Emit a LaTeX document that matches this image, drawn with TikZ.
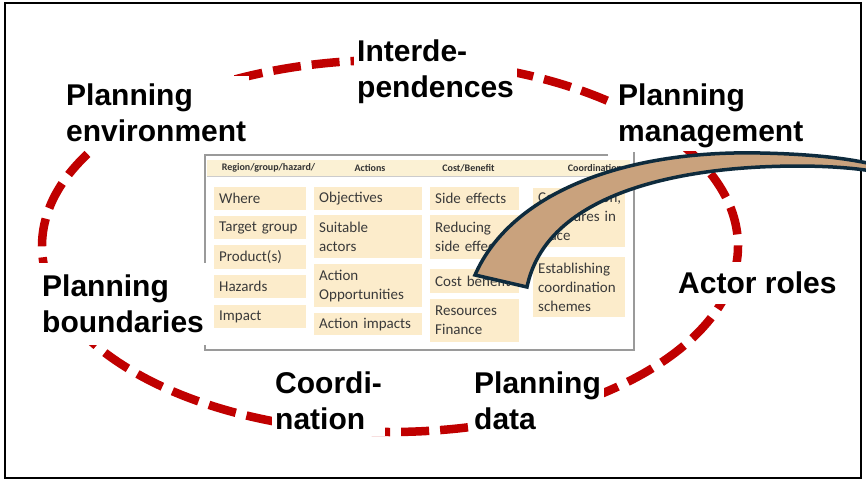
\documentclass[tikz,border=0pt]{standalone}
\usepackage{fontspec}
\setmainfont{Liberation Sans}
\newfontfamily\cellfont{Carlito}
\definecolor{ered}{HTML}{C00000}
\definecolor{bandfill}{HTML}{C9A27D}
\definecolor{bandline}{HTML}{0E2B3D}
\definecolor{cellbg}{HTML}{FCECCB}
\definecolor{hdrbg}{HTML}{FBF1D4}
\definecolor{celltxt}{HTML}{3A3A3A}
\definecolor{tblline}{HTML}{9A9A9A}
\begin{document}
\begin{tikzpicture}[x=1pt,y=-1pt,
  lbl/.style={font=\bfseries\fontsize{30}{36}\selectfont, align=left, fill=white, inner sep=3pt, anchor=north west, text=black},
  cell/.style={fill=cellbg, font=\cellfont\fontsize{15}{19}\selectfont, text=celltxt, align=left, inner xsep=5pt, inner ysep=0pt, anchor=north west},
  hdr/.style={font=\cellfont\bfseries\fontsize{10}{12}\selectfont, text=black!80, inner sep=0pt},
  cyclearc/.style={draw=ered, line width=8.5pt, dash pattern=on 28pt off 11pt},
  band/.style={draw=bandline, fill=bandfill, line width=3.5pt, line join=miter},
  tbl/.style={draw=tblline, line width=1.2pt}
]
\useasboundingbox (0,0) rectangle (866,481);
\fill[white] (0,0) rectangle (866,481);
% outer frame
\draw[line width=2pt] (5,3) rectangle (861,478);
% dashed cycle
\draw[cyclearc] (390,246) ellipse [x radius=348, y radius=186];
% table frame
\coordinate (tTL) at (205,155);
\coordinate (tTR) at (608,155);
\coordinate (tRT) at (634,152);
\coordinate (tBR) at (634,350);
\coordinate (tBL) at (205,350);
\draw[tbl] (tTR) -- (tTL) -- (tBL) -- (tBR) -- (tRT);
% header
\fill[hdrbg] (207,160) rectangle (630,176);
\draw[black!20, line width=0.8pt] (207,176) -- (630,176);
\node[hdr] (h1) at (268.5,168) {Region/group/hazard/};
\node[hdr] (h2) at (370,168) {Actions};
\node[hdr] (h3) at (468.5,168) {Cost/Benefit};
\node[hdr] (h4) at (595,168) {Coordination};
% column 1
\node[cell, text width=82pt, minimum height=23pt] (c11) at (214,187) {Where};
\node[cell, text width=82pt, minimum height=23pt] (c12) at (214,216) {Target group};
\node[cell, text width=82pt, minimum height=24pt] (c13) at (214,245) {Product(s)};
\node[cell, text width=82pt, minimum height=23pt] (c14) at (214,275) {Hazards};
\node[cell, text width=82pt, minimum height=23pt] (c15) at (214,305) {Impact};
% column 2
\node[cell, text width=98pt, minimum height=23pt] (c21) at (314,187) {Objectives};
\node[cell, text width=98pt, minimum height=43pt] (c22) at (314,215) {Suitable\\actors};
\node[cell, text width=98pt, minimum height=43pt] (c23) at (314,264) {Action\\Opportunities};
\node[cell, text width=98pt, minimum height=22pt] (c24) at (314,313) {Action impacts};
% column 3
\node[cell, text width=79pt, minimum height=23pt] (c31) at (430,187) {Side effects};
\node[cell, text width=79pt, minimum height=44pt] (c32) at (430,215) {Reducing\\side effects};
\node[cell, text width=79pt, minimum height=24pt] (c33) at (430,269) {Cost benefit};
\node[cell, text width=79pt, minimum height=43pt] (c34) at (430,299) {Resources\\Finance};
% column 4
\node[cell, text width=82pt, minimum height=59pt] (c41) at (533,188) {Coordination,\\structures in\\place};
\node[cell, text width=82pt, minimum height=60pt] (c42) at (533,257) {Establishing\\coordination\\schemes};
% labels
\node[lbl, inner ysep=8pt] (env) at (63,75.5) {Planning\\environment};
\node[lbl] (inter) at (354,36.5) {Interde-\\pendences};
\node[lbl] (mgmt) at (615,80.5) {Planning\\management};
\node[lbl, inner xsep=8pt, inner ysep=12pt] (bound) at (34,263) {Planning\\boundaries};
\node[lbl, inner ysep=6pt] (coord) at (272,366) {Coordi-\\nation};
\node[lbl, inner ysep=6pt] (pdata) at (471,366) {Planning\\data};
\node[lbl, inner ysep=10pt] (actor) at (675,262) {Actor roles};
% curved band
\coordinate (bA) at (475,275);
\coordinate (bB) at (527,287);
\draw[band] (bA) .. controls (510,195) and (620,150) .. (760,153)
  .. controls (810,154) and (845,158) .. (872,164) -- (872,171)
  .. controls (840,166) and (800,165) .. (760,167)
  .. controls (660,172) and (545,200) .. (bB) -- cycle;
\end{tikzpicture}
\end{document}
